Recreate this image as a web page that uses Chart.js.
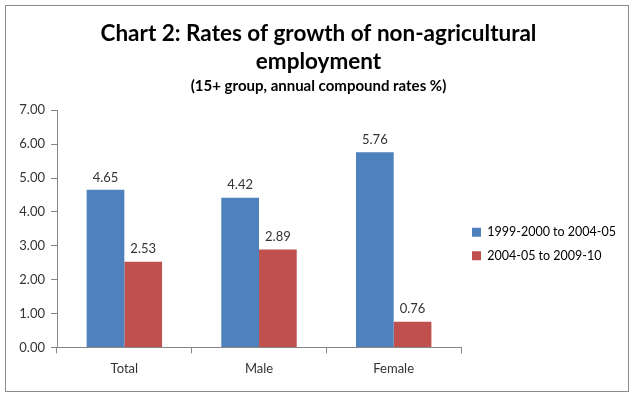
<!DOCTYPE html>
<html>
<head>
<meta charset="utf-8">
<script src="https://cdn.jsdelivr.net/npm/chart.js@4.4.1/dist/chart.umd.min.js"></script>
<style>
  body { margin: 0; background: #fff; }
  #frame {
    position: absolute; left: 5px; top: 5px;
    width: 622px; height: 385px;
    border: 1px solid #8a8a8a;
  }
  canvas { display: block; }
</style>
</head>
<body>
<div id="frame"><canvas id="growthChart" width="622" height="385"></canvas></div>
<script>
// chart data
const categories = ["Total", "Male", "Female"];
const seriesNames = ["1999-2000 to 2004-05", "2004-05 to 2009-10"];
const firstPeriod = [4.65, 4.42, 5.76];
const secondPeriod = [2.53, 2.89, 0.76];
const yTicks = [0, 1, 2, 3, 4, 5, 6, 7];

const axisGrey = "#868686";
const textColor = "#333333";

// value labels above each bar
const barLabels = {
    id: "barLabels",
    afterDatasetsDraw(chart) {
        const ctx = chart.ctx;
        ctx.save();
        ctx.font = "13px Lato";
        ctx.fillStyle = textColor;
        ctx.textAlign = "center";
        ctx.textBaseline = "bottom";
        chart.data.datasets.forEach((ds, i) => {
            chart.getDatasetMeta(i).data.forEach((bar, j) => {
                ctx.fillText(ds.data[j].toFixed(2), bar.x, bar.y - 6);
            });
        });
        ctx.restore();
    }
};

function drawChart() {
    new Chart(document.getElementById("growthChart"), {
        type: "bar",
        data: {
            labels: categories,
            datasets: [{
                label: seriesNames[0],
                data: firstPeriod,
                backgroundColor: "#4F81BD"
            }, {
                label: seriesNames[1],
                data: secondPeriod,
                backgroundColor: "#C0504D"
            }]
        },
        options: {
            responsive: false,
            animation: false,
            layout: { padding: { left: 5, right: 2, top: 0, bottom: 6 } },
            categoryPercentage: 0.56,
            barPercentage: 1,
            scales: {
                x: {
                    grid: { drawOnChartArea: false, color: axisGrey, tickLength: 6 },
                    border: { color: axisGrey },
                    ticks: { color: textColor, font: { family: "Lato", size: 13 }, padding: 8 }
                },
                y: {
                    min: 0,
                    max: 7,
                    afterBuildTicks: s => { s.ticks = yTicks.map(v => ({ value: v })); },
                    afterFit: s => { s.width = 46; },
                    grid: { drawOnChartArea: false, color: axisGrey, tickLength: 6 },
                    border: { color: axisGrey },
                    ticks: {
                        color: textColor,
                        font: { family: "Lato", size: 13 },
                        padding: 6,
                        callback: v => v.toFixed(2)
                    }
                }
            },
            plugins: {
                title: {
                    display: true,
                    text: ["Chart 2: Rates of growth of non-agricultural", "employment"],
                    color: "#000",
                    font: { family: "Lato", size: 22.5, weight: "bold", lineHeight: 1.25 },
                    padding: { top: 14, bottom: 0 }
                },
                subtitle: {
                    display: true,
                    text: "(15+ group, annual compound rates %)",
                    color: "#000",
                    font: { family: "Lato", size: 15, weight: "bold" },
                    padding: { top: 1, bottom: 15 }
                },
                legend: {
                    position: "right",
                    fullSize: false,
                    maxWidth: 200,
                    // empty title only pushes the items down a little
                    title: { display: true, text: "", font: { size: 12, lineHeight: 1.2 }, padding: 8 },
                    labels: {
                        color: "#000",
                        font: { family: "Lato", size: 12.5 },
                        boxWidth: 9,
                        boxHeight: 9,
                        padding: 11
                    }
                },
                tooltip: { enabled: false }
            }
        },
        plugins: [barLabels]
    });
}

Promise.all([
    document.fonts.load("13px Lato"),
    document.fonts.load("bold 22px Lato")
]).then(drawChart, drawChart);
</script>
</body>
</html>
